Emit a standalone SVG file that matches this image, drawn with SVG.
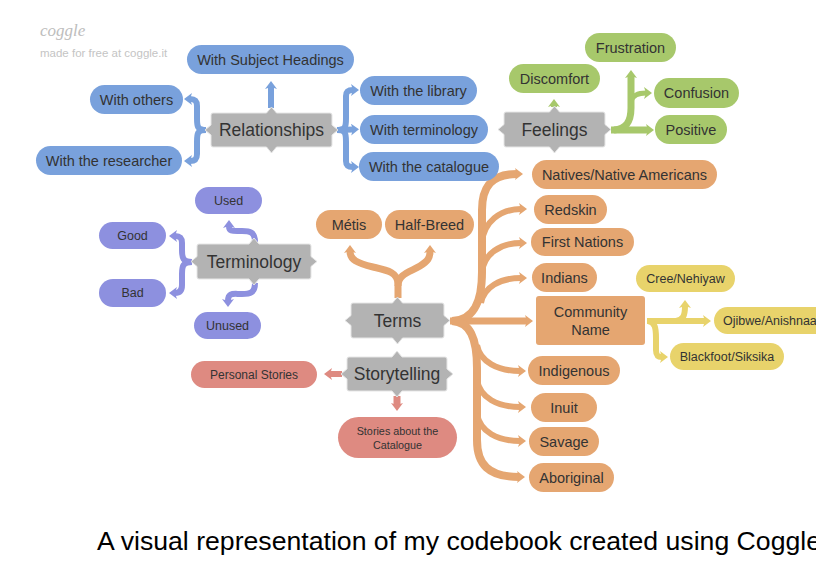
<svg xmlns="http://www.w3.org/2000/svg" width="816" height="562" viewBox="0 0 816 562">
<style>
text{font-family:"Liberation Sans",Arial,sans-serif;fill:#333;text-anchor:middle}
.b rect{fill:#79a1dc}
.g rect{fill:#a7c86b}
.p rect{fill:#8d90df}
.o rect{fill:#e5a671}
.y rect{fill:#e8d36b}
.s rect{fill:#de8a81}
.box path{fill:#b3b3b3;stroke:#e6e6e6;stroke-width:1}
.box text{font-size:17.5px}
.f145 text{font-size:14.5px}
.f125 text{font-size:12.5px}
.c{fill:none;stroke-linecap:butt}
.cb{stroke:#79a1dc}
.cg{stroke:#a7c86b}
.cp{stroke:#8d90df}
.co{stroke:#e5a671}
.cy{stroke:#e8d36b}
.cs{stroke:#de8a81}
</style>
<defs>
<marker id="mb" markerUnits="userSpaceOnUse" markerWidth="10" markerHeight="12" viewBox="0 0 10 12" refX="2" refY="6" orient="auto"><path d="M0,0 L8,6 L0,12 L2,6 Z" fill="#79a1dc"/></marker>
<marker id="mg" markerUnits="userSpaceOnUse" markerWidth="10" markerHeight="12" viewBox="0 0 10 12" refX="2" refY="6" orient="auto"><path d="M0,0 L8,6 L0,12 L2,6 Z" fill="#a7c86b"/></marker>
<marker id="mp" markerUnits="userSpaceOnUse" markerWidth="10" markerHeight="12" viewBox="0 0 10 12" refX="2" refY="6" orient="auto"><path d="M0,0 L8,6 L0,12 L2,6 Z" fill="#8d90df"/></marker>
<marker id="mo" markerUnits="userSpaceOnUse" markerWidth="10" markerHeight="12" viewBox="0 0 10 12" refX="2" refY="6" orient="auto"><path d="M0,0 L8,6 L0,12 L2,6 Z" fill="#e5a671"/></marker>
<marker id="my" markerUnits="userSpaceOnUse" markerWidth="10" markerHeight="12" viewBox="0 0 10 12" refX="2" refY="6" orient="auto"><path d="M0,0 L8,6 L0,12 L2,6 Z" fill="#e8d36b"/></marker>
<marker id="ms" markerUnits="userSpaceOnUse" markerWidth="10" markerHeight="12" viewBox="0 0 10 12" refX="2" refY="6" orient="auto"><path d="M0,0 L8,6 L0,12 L2,6 Z" fill="#de8a81"/></marker>
</defs>
<rect width="816" height="562" fill="#fff"/>

<g id="logo">
<text x="40" y="36" style="font-family:'Liberation Serif',serif;font-style:italic;font-size:17px;fill:#bdbdbd;text-anchor:start">coggle</text>
<text x="40" y="57" style="font-size:11.5px;fill:#c4c4c4;text-anchor:start">made for free at coggle.it</text>
</g>

<g id="connectors">
<path class="c cb" stroke-width="6" d="M271,108 L271,87" marker-end="url(#mb)"/>
<path class="c cb" stroke-width="6" d="M206,130 C197,130 197,126 197,118 L197,106 C197,101 195,99 190,99" marker-end="url(#mb)"/>
<path class="c cb" stroke-width="6" d="M206,130 C197,130 197,134 197,142 L197,154 C197,159 195,161 190,161" marker-end="url(#mb)"/>
<path class="c cb" stroke-width="6" d="M337,130 C346,130 346,126 346,118 L346,96 C346,92 348,90 353,90" marker-end="url(#mb)"/>
<path class="c cb" stroke-width="6" d="M337,130 L353,129.5" marker-end="url(#mb)"/>
<path class="c cb" stroke-width="6" d="M337,130 C346,130 346,134 346,142 L346,161 C346,165 348,167 353,167" marker-end="url(#mb)"/>
<path class="c cg" stroke-width="6" d="M554,107 L554,105" marker-end="url(#mg)"/>
<path class="c cg" stroke-width="7" d="M611,130 L648,130" marker-end="url(#mg)"/>
<path class="c cg" stroke-width="7" d="M614,130 C626,129 631,122 631,108 L631,76" marker-end="url(#mg)"/>
<path class="c cg" stroke-width="5" d="M631,101 C633,95 638,93 646,93" marker-end="url(#mg)"/>
<path class="c cp" stroke-width="6" d="M192,262 C183,262 182,258 182,250 L182,243 C182,238 180,236 175,236" marker-end="url(#mp)"/>
<path class="c cp" stroke-width="6" d="M192,262 C183,262 182,266 182,274 L182,285 C182,290 180,293 175,293" marker-end="url(#mp)"/>
<path class="c cp" stroke-width="6" d="M255,242 C255,232 250,231 242,231 C233,231 229,232 229,226" marker-end="url(#mp)"/>
<path class="c cp" stroke-width="6" d="M255,283 C255,293 250,294 242,294 C233,294 228,292 228,301" marker-end="url(#mp)"/>
<path class="c co" stroke-width="7" d="M398,298 L398,284 C398,272 386,270 373,267 C357,263 350,260 350,251" marker-end="url(#mo)"/>
<path class="c co" stroke-width="7" d="M398,286 C398,274 410,272 420,266 C428,261 430,258 430,251" marker-end="url(#mo)"/>
<path class="c co" stroke-width="7" d="M450,321 L527,321" marker-end="url(#mo)"/>
<path class="c co" stroke-width="8" d="M452,321 C474,320 482,302 482,272 L482,210 C482,186 492,174 517,174" marker-end="url(#mo)"/>
<path class="c co" stroke-width="6" d="M482,242 C484,222 500,209 521,209" marker-end="url(#mo)"/>
<path class="c co" stroke-width="6" d="M482,272 C484,254 500,243 521,243" marker-end="url(#mo)"/>
<path class="c co" stroke-width="6" d="M481,303 C484,287 500,278 521,278" marker-end="url(#mo)"/>
<path class="c co" stroke-width="8" d="M452,321 C470,322 477,338 477,368 L477,440 C477,464 488,477 519,477" marker-end="url(#mo)"/>
<path class="c co" stroke-width="6" d="M477,345 C480,362 498,371 520,371" marker-end="url(#mo)"/>
<path class="c co" stroke-width="6" d="M477,380 C480,398 498,407 520,407" marker-end="url(#mo)"/>
<path class="c co" stroke-width="6" d="M477,414 C480,432 498,441 520,441" marker-end="url(#mo)"/>
<path class="c cy" stroke-width="6" d="M647,321 L705,321" marker-end="url(#my)"/>
<path class="c cy" stroke-width="6" d="M676,321 C683,320 685,316 685,306" marker-end="url(#my)"/>
<path class="c cy" stroke-width="6" d="M648,321 C655,322 656,328 656,338 L656,350 C656,355 657,357 662,357" marker-end="url(#my)"/>
<path class="c cs" stroke-width="6" d="M342,374 L330,374" marker-end="url(#ms)"/>
<path class="c cs" stroke-width="7" d="M397,396 L397,405" marker-end="url(#ms)"/>
</g>

<g id="relationships" class="box"><path d="M211,115 Q211,113 213,113 H266.5 L271.5,107 L276.5,113 H330 Q332,113 332,115 V125 L338,130 L332,135 V145 Q332,147 330,147 H276.5 L271.5,153 L266.5,147 H213 Q211,147 211,145 V135 L205,130 L211,125 Z"/><text x="271.5" y="136.3">Relationships</text></g>
<g id="feelings" class="box"><path d="M504,114 Q504,112 506,112 H549.5 L554.5,106 L559.5,112 H603 Q605,112 605,114 V124.5 L611,129.5 L605,134.5 V145 Q605,147 603,147 H559.5 L554.5,153 L549.5,147 H506 Q504,147 504,145 V134.5 L498,129.5 L504,124.5 Z"/><text x="554.5" y="135.8">Feelings</text></g>
<g id="terminology" class="box"><path d="M197,246 Q197,244 199,244 H249 L254,238 L259,244 H309 Q311,244 311,246 V256.5 L317,261.5 L311,266.5 V277 Q311,279 309,279 H259 L254,285 L249,279 H199 Q197,279 197,277 V266.5 L191,261.5 L197,256.5 Z"/><text x="254" y="267.8">Terminology</text></g>
<g id="terms" class="box"><path d="M351,305 Q351,303 353,303 H392.5 L397.5,297 L402.5,303 H442 Q444,303 444,305 V315.5 L450,320.5 L444,325.5 V336 Q444,338 442,338 H402.5 L397.5,344 L392.5,338 H353 Q351,338 351,336 V325.5 L345,320.5 L351,315.5 Z"/><text x="397.5" y="326.8">Terms</text></g>
<g id="storytelling" class="box"><path d="M347,359 Q347,357 349,357 H392 L397,351 L402,357 H445 Q447,357 447,359 V369 L453,374 L447,379 V389 Q447,391 445,391 H402 L397,397 L392,391 H349 Q347,391 347,389 V379 L341,374 L347,369 Z"/><text x="397" y="380.3">Storytelling</text></g>

<g class="b f145">
<g id="subject-headings"><rect x="187" y="45" width="167" height="29" rx="14.5"/><text x="270.5" y="64.5">With Subject Headings</text></g>
<g id="with-others"><rect x="90" y="85" width="93" height="29" rx="14.5"/><text x="136.5" y="104.5">With others</text></g>
<g id="with-researcher"><rect x="36" y="146" width="146" height="29" rx="14.5"/><text x="109" y="165.5">With the researcher</text></g>
<g id="with-library"><rect x="360" y="76" width="117" height="29" rx="14.5"/><text x="418.5" y="95.5">With the library</text></g>
<g id="with-terminology"><rect x="360" y="115" width="128" height="29" rx="14.5"/><text x="424" y="134.5">With terminology</text></g>
<g id="with-catalogue"><rect x="359" y="152" width="140" height="29" rx="14.5"/><text x="429" y="171.5">With the catalogue</text></g>
</g>

<g class="g f145">
<g id="frustration"><rect x="585" y="33" width="91" height="29" rx="14.5"/><text x="630.5" y="52.5">Frustration</text></g>
<g id="discomfort"><rect x="509" y="64" width="91" height="29" rx="14.5"/><text x="554.5" y="83.5">Discomfort</text></g>
<g id="confusion"><rect x="654" y="78" width="85" height="30" rx="15"/><text x="696.5" y="98">Confusion</text></g>
<g id="positive"><rect x="655" y="115" width="72" height="29" rx="14.5"/><text x="691" y="134.5">Positive</text></g>
</g>

<g class="p f125">
<g id="used"><rect x="195" y="187" width="67" height="27" rx="13.5"/><text x="228.5" y="204.9">Used</text></g>
<g id="good"><rect x="99" y="222" width="67" height="27" rx="13.5"/><text x="132.5" y="239.9">Good</text></g>
<g id="bad"><rect x="99" y="279" width="67" height="28" rx="14"/><text x="132.5" y="297.4">Bad</text></g>
<g id="unused"><rect x="194" y="312" width="67" height="27" rx="13.5"/><text x="227.5" y="329.9">Unused</text></g>
</g>

<g class="o f145">
<g id="metis"><rect x="316" y="210" width="66" height="29" rx="14.5"/><text x="349" y="229.5">Métis</text></g>
<g id="half-breed"><rect x="385" y="210" width="89" height="29" rx="14.5"/><text x="429.5" y="229.5">Half-Breed</text></g>
<g id="natives"><rect x="532" y="160" width="185" height="29" rx="14.5"/><text x="624.5" y="179.5">Natives/Native Americans</text></g>
<g id="redskin"><rect x="534" y="195" width="73" height="29" rx="14.5"/><text x="570.5" y="214.5">Redskin</text></g>
<g id="first-nations"><rect x="531" y="228" width="103" height="28" rx="14"/><text x="582.5" y="247">First Nations</text></g>
<g id="indians"><rect x="532" y="263" width="65" height="29" rx="14.5"/><text x="564.5" y="282.5">Indians</text></g>
<g id="community-name"><rect x="536" y="296" width="109" height="49" rx="3"/><text x="590.5" y="317">Community</text><text x="590.5" y="335">Name</text></g>
<g id="indigenous"><rect x="528" y="356" width="92" height="29" rx="14.5"/><text x="574" y="375.5">Indigenous</text></g>
<g id="inuit"><rect x="531" y="393" width="66" height="29" rx="14.5"/><text x="564" y="412.5">Inuit</text></g>
<g id="savage"><rect x="529" y="427" width="70" height="29" rx="14.5"/><text x="564" y="446.5">Savage</text></g>
<g id="aboriginal"><rect x="529" y="463" width="85" height="29" rx="14.5"/><text x="571.5" y="482.5">Aboriginal</text></g>
</g>

<g class="y f125">
<g id="cree"><rect x="636" y="265" width="99" height="27" rx="13.5"/><text x="685.5" y="282.9">Cree/Nehiyaw</text></g>
<g id="ojibwe"><rect x="714" y="307" width="130" height="27" rx="13.5"/><text x="723" y="324.9" style="text-anchor:start">Ojibwe/Anishnaabe</text></g>
<g id="blackfoot"><rect x="670" y="343" width="114" height="27" rx="13.5"/><text x="727" y="360.9">Blackfoot/Siksika</text></g>
</g>

<g class="s">
<g id="personal-stories"><rect x="191" y="361" width="126" height="27" rx="13.5"/><text x="254" y="378.7" style="font-size:12px">Personal Stories</text></g>
<g id="stories-catalogue"><rect x="338" y="417" width="119" height="41" rx="20.5"/><text x="397.5" y="435" style="font-size:10.8px">Stories about the</text><text x="397.5" y="448.5" style="font-size:10.8px">Catalogue</text></g>
</g>

<text x="97" y="550" textLength="724" lengthAdjust="spacingAndGlyphs" style="font-size:25px;fill:#000;text-anchor:start">A visual representation of my codebook created using Coggle</text>
</svg>
